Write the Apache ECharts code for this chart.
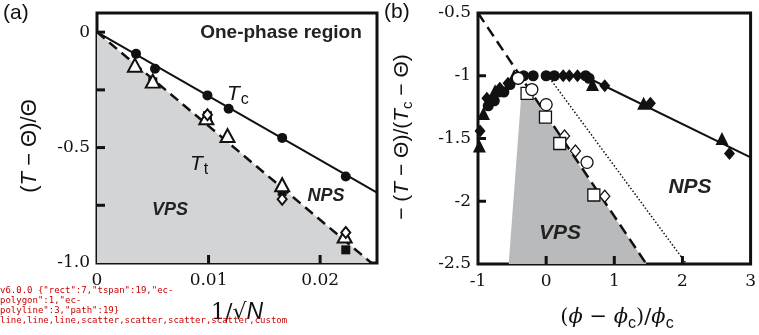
<!DOCTYPE html>
<html><head><meta charset="utf-8">
<script>
window.__errs = [];
window.onerror = function(m){ window.__errs.push('E:' + m); };
(function(){ const oe = console.error, ow = console.warn;
  console.error = function(){ window.__errs.push('CE:' + Array.from(arguments).join(' ').slice(0,80)); oe.apply(console, arguments); };
  console.warn = function(){ window.__errs.push('CW:' + Array.from(arguments).join(' ').slice(0,80)); ow.apply(console, arguments); };
})();
</script>
<script src="https://cdn.jsdelivr.net/npm/echarts@6/dist/echarts.min.js"></script>
<style>html,body{margin:0;padding:0;background:#fff}
#wrap{position:relative;width:759px;height:335px;overflow:hidden}
#ca{position:absolute;left:0;top:0;width:380px;height:335px}
#cb{position:absolute;left:380px;top:0;width:379px;height:335px}
#dg{position:absolute;left:0;top:285px;width:200px;font:9px monospace;color:#c00;white-space:pre-wrap;z-index:9;line-height:10px}</style>
</head><body><div id="wrap"><div id="ca"></div><div id="cb"></div><div id="dg"></div></div>
<script>
// ---------- Panel (a) data ----------
const tcPoints = [[0.0035,-0.094],[0.0052,-0.158],[0.0099,-0.274],[0.0118,-0.332],[0.0166,-0.458],[0.0223,-0.625]];
const ttTriangles = [[0.0034,-0.143],[0.0050,-0.212],[0.0098,-0.371],[0.0117,-0.448],[0.0166,-0.661],[0.0222,-0.883]];
const filledSquaresA = [[0.0050,-0.215],[0.0099,-0.362],[0.0166,-0.690],[0.0223,-0.943]];
const openDiamondsA = [[0.0099,-0.358],[0.0166,-0.724],[0.0223,-0.868]];
const tcLine = [[0,0],[0.0251,-0.695]];
const ttLine = [[0,0],[0.0246,-1.0]];
const xRangeA = [0, 0.0251];
const yRangeA = [-1, 0.083];
const xTicksA = [0.01, 0.02];
const yTicksA = [-0.75, -0.5, -0.25, 0];

// ---------- Panel (b) data ----------
const filledCirclesB = [[-0.85,-1.24],[-0.76,-1.20],[-0.62,-1.13],[-0.53,-1.07],[-0.33,-1.00],[-0.19,-1.00],[0.0,-1.00],[0.12,-1.00],[0.58,-1.00],[0.63,-1.02]];
const filledTrianglesB = [[-0.98,-1.56],[-0.92,-1.30],[-0.75,-1.12],[-0.47,-1.00],[0.68,-1.07],[1.43,-1.22],[2.58,-1.50]];
const filledDiamondsB = [[-0.97,-1.44],[-0.87,-1.18],[-0.68,-1.10],[-0.56,-1.06],[0.25,-1.00],[0.34,-1.00],[0.46,-1.00],[0.86,-1.08],[1.53,-1.22],[2.69,-1.62]];
const openCirclesB = [[-0.41,-1.02],[-0.21,-1.11],[0.0,-1.23],[0.60,-1.69]];
const openSquaresB = [[-0.28,-1.14],[-0.01,-1.33],[0.20,-1.54],[0.70,-1.95]];
const openDiamondsB = [[0.27,-1.48],[0.43,-1.60],[0.86,-1.96]];
const solidLineB = [[0.55,-1.0],[3.0,-1.65]];
const dashedLineB = [[-1.0,-0.5],[1.47,-2.5]];
const dottedLineB = [[0.08,-1.04],[2.06,-2.5]];
const vpsRegionB = [[-0.55,-2.5],[-0.36,-1.12],[-0.26,-1.12],[1.47,-2.5]];
const xRangeB = [-1, 3];
const yRangeB = [-2.5, -0.5];
const xTicksB = [0, 1, 2];
const yTicksB = [-2, -1.5, -1];

const BLACK = '#111';
const labelFont = {fontFamily:'DejaVu Serif', fontSize:17, color:BLACK};

function mkAxis(range, interval, fmt, margin) {
  return {
    type:'value', min:range[0], max:range[1], interval:interval,
    axisLine:{show:false}, axisTick:{show:false},
    axisLabel:Object.assign({show:true, margin:margin, formatter:fmt}, labelFont),
    splitLine:{show:false}
  };
}
const fmtXA = v => (Math.abs(v*100 - Math.round(v*100)) > 1e-6) ? '' : (Math.abs(v) < 1e-9 ? '0' : v.toFixed(2));
const fmtYA = v => { if (Math.abs(v*2 - Math.round(v*2)) > 1e-6) return ''; return Math.abs(v) < 1e-9 ? '0' : v.toFixed(1); };
const fmtB = v => String(Math.round(v*10)/10);

// inward tick marks placed through the chart's own scales (drawn as small rects)
function mkTicks(xTicks, yTicks, xRange, yRange) {
  const data = xTicks.map(v => [v, yRange[0], 0]).concat(yTicks.map(v => [xRange[0], v, 1]));
  return {
    type:'custom', z:10, silent:true, data:data, clip:false,
    renderItem:function(params, api) {
      const p = api.coord([api.value(0), api.value(1)]);
      const isX = api.value(2) === 0;
      return {type:'rect',
        shape: isX ? {x:p[0]-1.5, y:p[1]-8, width:3, height:8} : {x:p[0], y:p[1]-1.5, width:8, height:3},
        style:{fill:BLACK}};
    }
  };
}
function mkScatter(data, symbol, size, filled, bw) {
  return {
    type:'scatter', data:data, symbol:symbol, symbolSize:size, z:5, silent:true,
    itemStyle: filled ? {color:BLACK, borderColor:BLACK, borderWidth:0, opacity:1}
                      : {color:'#fff', borderColor:BLACK, borderWidth:bw || 2, opacity:1}
  };
}
function mkLine(data, type, width) {
  return {type:'line', data:data, symbol:'none', z:4, silent:true,
    lineStyle:{color:BLACK, width:width, type:type, opacity:1}};
}
function mkArea(data, color) {
  return {type:'line', data:data, symbol:'none', z:1, silent:true,
    lineStyle:{width:0, color:color}, areaStyle:{color:color, opacity:1, origin:'start'}};
}
function mkTxt(x, y, text, size, extra) {
  return {type:'text', x:x, y:y, z:20, style:Object.assign({text:text, fontFamily:'Liberation Sans', fontSize:size, fill:BLACK}, extra || {})};
}
const boldItal = {align:'center', verticalAlign:'middle', fontWeight:'bold', fontStyle:'italic', fill:'#222'};
const subRich = (sz, sub) => ({
  t:{fontFamily:'Liberation Sans', fontStyle:'italic', fontSize:sz, fill:BLACK},
  s:{fontFamily:'Liberation Sans', fontSize:sub, fill:BLACK, padding:[12,0,0,1]}});

const chartA = echarts.init(document.getElementById('ca'));
try {
chartA.setOption({
  animation:false, backgroundColor:'#fff',
  grid:{left:97, right:2, top:13, bottom:72, show:true, borderColor:BLACK, borderWidth:3, backgroundColor:'transparent'},
  xAxis:mkAxis(xRangeA, 0.01, fmtXA, 9),
  yAxis:mkAxis(yRangeA, 0.25, fmtYA, 7),
  series:[
    mkArea(ttLine, '#d3d4d6'),
    mkLine(tcLine, 'solid', 2),
    mkLine(ttLine, [10,6], 2.5),
    mkScatter(tcPoints, 'circle', 10, true),
    mkScatter(filledSquaresA, 'rect', 9, true),
    mkScatter(ttTriangles, 'triangle', [14,13], false, 2),
    mkScatter(openDiamondsA, 'diamond', [9,11], false, 2),
    mkTicks(xTicksA, yTicksA, xRangeA, yRangeA)
  ],
  graphic:[
    mkTxt(3, 3, '(a)', 21),
    mkTxt(281, 33, 'One-phase region', 19, {align:'center', verticalAlign:'middle', fontWeight:'bold', fill:'#222'}),
    {type:'text', x:227, y:80, z:20, style:{text:'{t|T}{s|c}', rich:subRich(21,16)}},
    {type:'text', x:190, y:150, z:20, style:{text:'{t|T}{s|t}', rich:subRich(21,16)}},
    mkTxt(326, 196, 'NPS', 18, boldItal),
    mkTxt(170, 210, 'VPS', 18, boldItal),
    {type:'text', x:30, y:146, rotation:Math.PI/2, style:{text:'{p|(}{i|T}{p| − Θ)/Θ}', align:'center', verticalAlign:'middle', rich:{
      p:{fontFamily:'Liberation Sans', fontSize:22, fill:BLACK},
      i:{fontFamily:'Liberation Sans', fontStyle:'italic', fontSize:22, fill:BLACK}}}},
    {type:'text', x:237, y:313, style:{text:'{p|1/√}{i|N}', align:'center', verticalAlign:'middle', rich:{
      p:{fontFamily:'DejaVu Serif', fontSize:22, fill:BLACK},
      i:{fontFamily:'Liberation Sans', fontStyle:'italic', fontSize:23, fill:BLACK}}}}
  ]
});
} catch(e) { window.__errs.push('A:' + e.message); }

const chartB = echarts.init(document.getElementById('cb'));
try {
chartB.setOption({
  animation:false, backgroundColor:'#fff',
  grid:{left:98, right:2, top:13, bottom:71, show:true, borderColor:BLACK, borderWidth:3, backgroundColor:'transparent'},
  xAxis:mkAxis(xRangeB, 1, fmtB, 9),
  yAxis:mkAxis(yRangeB, 0.5, fmtB, 7),
  series:[
    mkArea(vpsRegionB, '#b9babc'),
    mkLine(solidLineB, 'solid', 2),
    mkLine(dashedLineB, [11,6], 2.5),
    mkLine(dottedLineB, [1.5,2], 1.5),
    mkScatter(filledCirclesB, 'circle', 11, true),
    mkScatter(filledTrianglesB, 'triangle', [13,13], true),
    mkScatter(filledDiamondsB, 'diamond', [11,13], true),
    mkScatter(openDiamondsB, 'diamond', [10,12], false, 1.3),
    mkScatter(openSquaresB, 'rect', 12, false, 1.3),
    mkScatter(openCirclesB, 'circle', 12, false, 1.3),
    mkTicks(xTicksB, yTicksB, xRangeB, yRangeB)
  ],
  graphic:[
    mkTxt(4, 2, '(b)', 21),
    mkTxt(310, 187, 'NPS', 21, boldItal),
    mkTxt(180, 233, 'VPS', 21, boldItal),
    {type:'text', x:22, y:137, rotation:Math.PI/2, style:{text:'{p|− (}{i|T}{p| − Θ)/(}{i|T}{s|c}{p| − Θ)}', align:'center', verticalAlign:'middle', rich:{
      p:{fontFamily:'Liberation Sans', fontSize:21, fill:BLACK},
      i:{fontFamily:'Liberation Sans', fontStyle:'italic', fontSize:21, fill:BLACK},
      s:{fontFamily:'Liberation Sans', fontSize:15, fill:BLACK, padding:[12,0,0,0]}}}},
    {type:'text', x:237, y:318, style:{text:'{p|(}{i|ϕ}{p| − }{i|ϕ}{s|c}{p|)/}{i|ϕ}{s|c}', align:'center', verticalAlign:'middle', rich:{
      p:{fontFamily:'DejaVu Serif', fontSize:21, fill:BLACK},
      i:{fontFamily:'DejaVu Serif', fontStyle:'italic', fontSize:21, fill:BLACK},
      s:{fontFamily:'Liberation Sans', fontSize:16, fill:BLACK, padding:[12,0,0,0]}}}}
  ]
});
} catch(e) { window.__errs.push('B:' + e.message); }

// temporary diagnostics
try {
  const counts = {};
  chartA.getZr().storage.getDisplayList(true).forEach(e => { counts[e.type] = (counts[e.type] || 0) + 1; });
  const st = chartA.getModel().getSeries().map(s => s.subType).join(',');
  document.getElementById('dg').textContent = 'v' + echarts.version + ' ' + JSON.stringify(counts) + '\n' + st + '\n' + window.__errs.join('|').slice(0,300);
} catch(e) { document.getElementById('dg').textContent = 'diag err ' + e.message + ' ' + window.__errs.join('|'); }
</script></body></html>
